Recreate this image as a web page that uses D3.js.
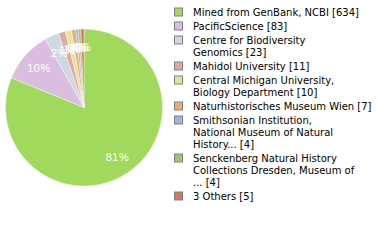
<!DOCTYPE html>
<html>
<head>
<meta charset="utf-8">
<script src="https://cdn.jsdelivr.net/npm/d3@7"></script>
<style>
  body { margin: 0; background: #fff; }
  svg { display: block; }
</style>
</head>
<body>
<div id="chart"></div>
<script>
// legend names (already cut like in the source) and record counts
var names = [
  "Mined from GenBank, NCBI",
  "PacificScience",
  "Centre for Biodiversity Genomics",
  "Mahidol University",
  "Central Michigan University, Biology Department",
  "Naturhistorisches Museum Wien",
  "Smithsonian Institution, National Museum of Natural History...",
  "Senckenberg Natural History Collections Dresden, Museum of ...",
  "3 Others"
];
var counts = [634, 83, 23, 11, 10, 7, 4, 4, 5];
var colors = ["#a0d95b", "#dbbde0", "#cdd8e3", "#dfa8a0", "#e2e4a0",
              "#f0ab72", "#9bb7dd", "#9ec57a", "#e0735c"];

var svgWidth = 380;
var svgHeight = 240;

var cx = 84, cy = 107.5, radius = 78.5;
var labelRadius = 60;

var svg = d3.select("#chart").append("svg")
  .attr("width", svgWidth)
  .attr("height", svgHeight);

var total = d3.sum(counts);
var data = names.map((n, i) => ({name: n, count: counts[i], color: colors[i]}));

var pie = d3.pie().sort(null).value(d => d.count);
var arc = d3.arc().innerRadius(0).outerRadius(radius);
var labelArc = d3.arc().innerRadius(labelRadius).outerRadius(labelRadius);

var pieGroup = svg.append("g")
  .attr("transform", `translate(${cx}, ${cy})`);

var slices = pie(data);

pieGroup.selectAll("path")
  .data(slices)
  .enter()
  .append("path")
  .attr("d", arc)
  .attr("fill", d => d.data.color)
  .attr("stroke", "#fff")
  .attr("stroke-width", 0.4);

pieGroup.selectAll("text")
  .data(slices)
  .enter()
  .append("text")
  .attr("transform", d => `translate(${labelArc.centroid(d)})`)
  .attr("text-anchor", "middle")
  .attr("dy", "0.35em")
  .attr("fill", "#fff")
  .attr("font-family", "Liberation Sans, Arial, sans-serif")
  .attr("font-size", 11)
  .attr("letter-spacing", 0.5)
  .text(d => Math.floor(d.data.count / total * 100) + "%");

// wrap the name at 30 characters, count goes on the last line
function wrapName(name, count) {
  var words = name.split(" ");
  var lines = [];
  var line = "";
  words.forEach(function(w) {
    if (line === "") line = w;
    else if ((line + " " + w).length <= 30) line += " " + w;
    else { lines.push(line); line = w; }
  });
  lines.push(line);
  lines[lines.length - 1] += " [" + count + "]";
  return lines;
}

var lineHeight = 12;
var itemGap = 2;
var legendX = 174;
var textX = 193;
var y = 7.5;

var legend = svg.append("g");

data.forEach(function(d) {
  var lines = wrapName(d.name, d.count);
  var item = legend.append("g").attr("transform", `translate(0, ${y})`);
  item.append("rect")
    .attr("x", legendX + 0.5)
    .attr("y", 0.5)
    .attr("width", 8)
    .attr("height", 8)
    .attr("fill", d.color)
    .attr("stroke", "#808080")
    .attr("stroke-width", 1);
  item.selectAll("text")
    .data(lines)
    .enter()
    .append("text")
    .attr("x", textX)
    .attr("y", (l, i) => 8.5 + i * lineHeight)
    .attr("font-family", "DejaVu Sans, sans-serif")
    .attr("font-size", 10)
    .attr("fill", "#000")
    .text(l => l);
  y += lines.length * lineHeight + itemGap;
});
</script>
</body>
</html>
